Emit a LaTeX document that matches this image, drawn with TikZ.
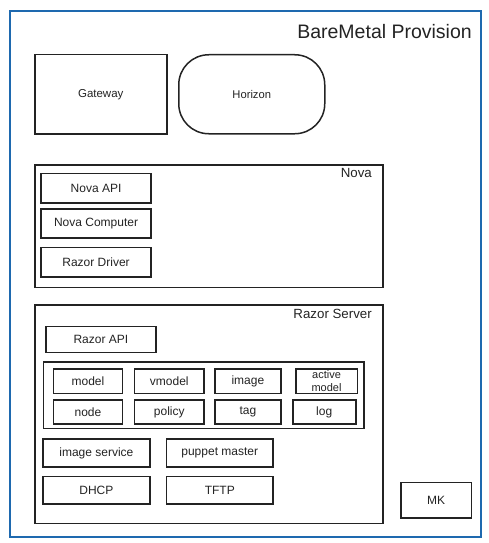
\documentclass[tikz,border=0pt]{standalone}
\usepackage{fontspec}
\setmainfont{Liberation Sans}
\definecolor{framec}{RGB}{30,105,175}
\definecolor{linec}{RGB}{35,35,35}
\begin{document}
\begin{tikzpicture}[x=1pt,y=-1pt,
  box/.style={draw=linec, line width=1.5pt, rectangle, inner sep=0pt, anchor=north west, text=linec, font=\fontsize{12}{13}\selectfont},
  cont/.style={draw=linec, line width=1.6pt, rectangle, inner sep=0pt, anchor=north west},
  lbl/.style={inner sep=0pt, anchor=east, text=linec, font=\fontsize{13.3}{15}\selectfont}]
\useasboundingbox (0,0) rectangle (488,543);
% outer frame
\node[draw=framec, line width=1.6pt, rectangle, inner sep=0pt, anchor=north west, minimum width=471pt, minimum height=526pt] (frame) at (9,10) {};
\node[inner sep=0pt, anchor=east, text=linec, font=\fontsize{19.5}{22}\selectfont] (title) at (472,32) {BareMetal Provision};
% top
\node[box, minimum width=132pt, minimum height=79pt, font=\fontsize{11.5}{13}\selectfont] (gw) at (34,54) {Gateway};
\node[box, rounded corners=30pt, minimum width=146pt, minimum height=79pt, font=\fontsize{11.2}{13}\selectfont] (hz) at (178,54) {Horizon};
% Nova
\node[cont, minimum width=348pt, minimum height=122.5pt] (nova) at (34,164.3) {};
\node[lbl] (novalbl) at (372,173) {Nova};
\node[box, minimum width=110pt, minimum height=29.5pt] (napi) at (40.3,172.7) {Nova API};
\node[box, minimum width=110pt, minimum height=29pt] (ncomp) at (40.3,208.3) {Nova Computer};
\node[box, minimum width=110pt, minimum height=29.3pt] (rdrv) at (40.3,246.7) {Razor Driver};
% Razor Server
\node[cont, minimum width=348pt, minimum height=218.4pt] (rs) at (34,304.3) {};
\node[lbl] (rslbl) at (372,313.5) {Razor Server};
\node[box, minimum width=110.3pt, minimum height=26pt] (rapi) at (45,325.7) {Razor API};
\node[cont, line width=1.5pt, minimum width=320.3pt, minimum height=66.7pt] (grp) at (42.7,361) {};
\node[box, minimum width=69pt, minimum height=24.4pt] (model) at (52.7,368.3) {model};
\node[box, minimum width=69.6pt, minimum height=24.4pt] (vmodel) at (133.7,368.3) {vmodel};
\node[box, minimum width=65.7pt, minimum height=24.4pt] (image) at (214.3,368.3) {image};
\node[box, minimum width=61.5pt, minimum height=24.4pt, align=center, font=\fontsize{11}{13}\selectfont] (amodel) at (295,368.3) {active\\model};
\node[box, minimum width=69pt, minimum height=24pt] (node) at (52.7,399.3) {node};
\node[box, minimum width=69.6pt, minimum height=24pt] (policy) at (133.7,399.3) {policy};
\node[box, minimum width=65.7pt, minimum height=24pt] (tag) at (214.3,399.3) {tag};
\node[box, minimum width=63pt, minimum height=24pt] (log) at (292,399.3) {log};
\node[box, minimum width=106.7pt, minimum height=27.7pt] (imgsvc) at (42.3,438.3) {image service};
\node[box, minimum width=106.6pt, minimum height=27.7pt] (puppet) at (165.7,438.3) {puppet master};
\node[box, minimum width=106.7pt, minimum height=27.6pt] (dhcp) at (42.3,475.7) {DHCP};
\node[box, minimum width=106.6pt, minimum height=27.6pt] (tftp) at (165.7,475.7) {TFTP};
% MK
\node[box, minimum width=70.7pt, minimum height=35.6pt] (mk) at (400,481.7) {MK};
\end{tikzpicture}
\end{document}
